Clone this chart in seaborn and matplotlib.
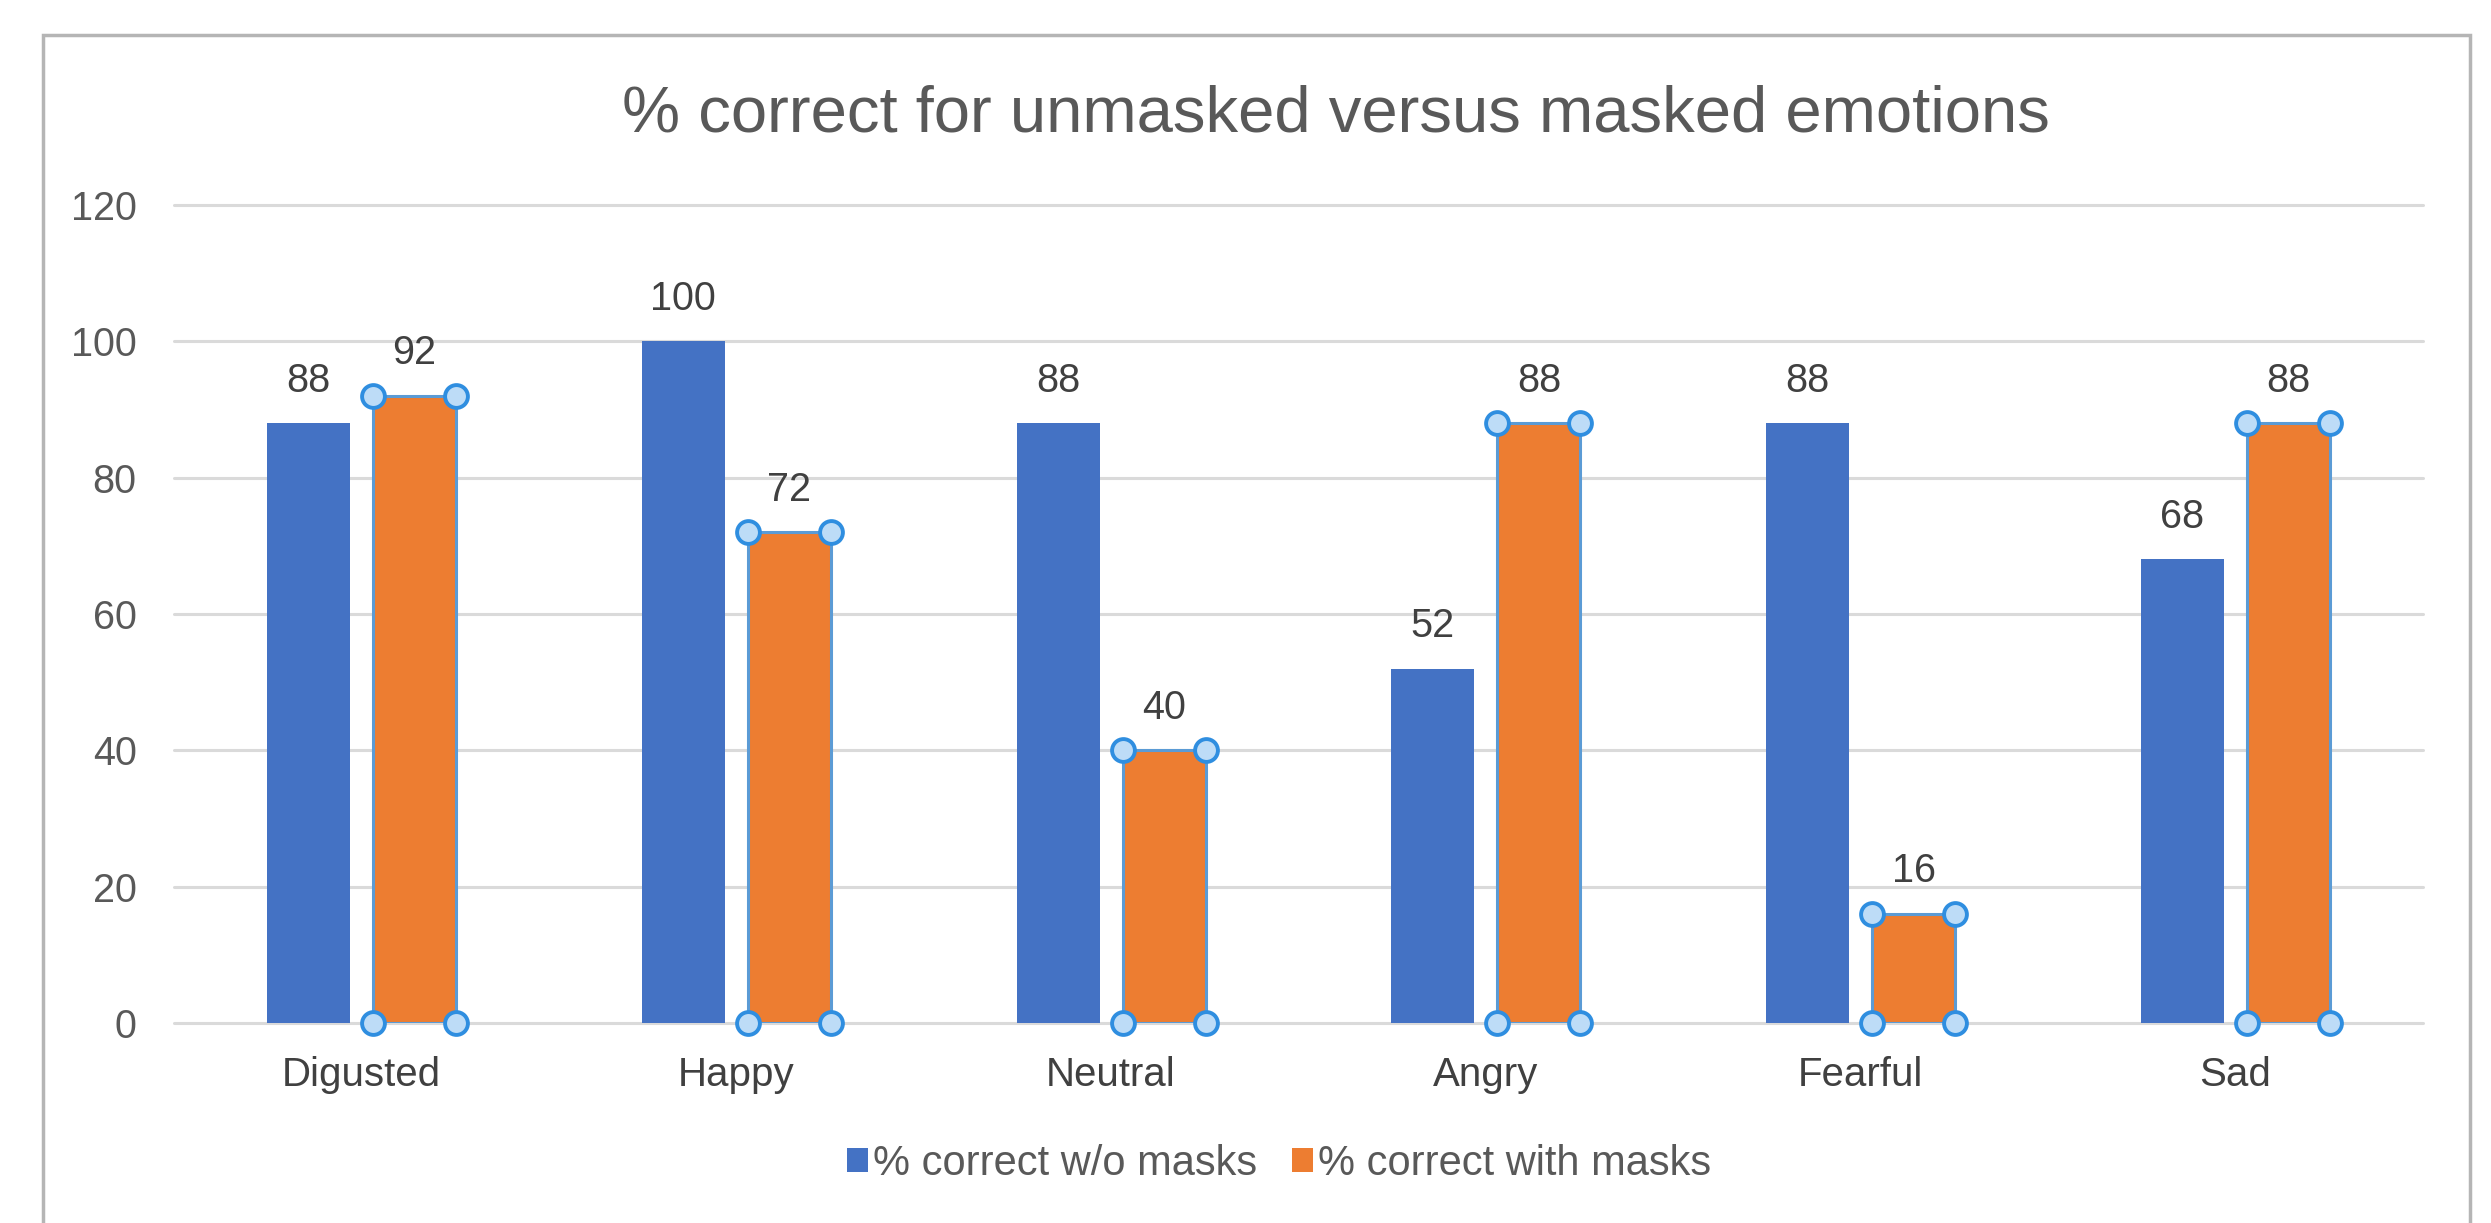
import matplotlib
matplotlib.use("Agg")
import matplotlib.pyplot as plt
import seaborn as sns
import pandas as pd
from matplotlib.patches import Rectangle

# ---- data ----
categories = ["Digusted", "Happy", "Neutral", "Angry", "Fearful", "Sad"]
without_masks = [88, 100, 88, 52, 88, 68]
with_masks = [92, 72, 40, 88, 16, 88]
series_names = ["% correct w/o masks", "% correct with masks"]
y_ticks = [0, 20, 40, 60, 80, 100, 120]
title = "% correct for unmasked versus masked emotions"

df = pd.DataFrame({
    "Emotion": categories * 2,
    "Percent": without_masks + with_masks,
    "Series": [series_names[0]] * len(categories) + [series_names[1]] * len(categories),
})

sns.set_theme(style="white")
plt.rcParams["font.family"] = ["Liberation Sans", "DejaVu Sans"]

W, H = 2491, 1223
fig = plt.figure(figsize=(W / 100, H / 100), dpi=100)
fig.patch.set_facecolor("white")

ax_left, ax_right, ax_top, ax_bottom = 174, 2423, 205, 1023
ax = fig.add_axes([ax_left / W, 1 - ax_bottom / H, (ax_right - ax_left) / W, (ax_bottom - ax_top) / H])

blue, orange = "#4472C4", "#ED7D31"
sns.barplot(data=df, x="Emotion", y="Percent", hue="Series", order=categories,
            hue_order=series_names, palette=[blue, orange], width=0.566, gap=0.217,
            saturation=1, linewidth=0, ax=ax, legend=True, zorder=3)

ax.set_ylim(0, 120)
ax.set_xlim(-0.5, len(categories) - 0.5)
ax.set_yticks(y_ticks)
ax.set_xlabel("")
ax.set_ylabel("")
for s in ax.spines.values():
    s.set_visible(False)
ax.yaxis.grid(True, color="#DADADA", linewidth=2.2, zorder=0)
ax.set_axisbelow(True)
for gl in ax.yaxis.get_gridlines():
    gl.set_clip_on(False)
ax.tick_params(axis="y", length=0, pad=27, labelsize=28.5, labelcolor="#595959")
ax.tick_params(axis="x", length=0, pad=24, labelsize=29, labelcolor="#404040")

label_color = "#404040"
for cont in ax.containers:
    ax.bar_label(cont, labels=[f"{v:.0f}" for v in cont.datavalues], padding=17,
                 fontsize=28.5, color=label_color, zorder=5)

# selection outline + handles on the orange series (as in the reference screenshot)
sel = ax.containers[1]
hx, hy = [], []
for p in sel.patches:
    p.set_edgecolor("#5B9BD5")
    p.set_linewidth(2.2)
    x0, w, h = p.get_x(), p.get_width(), p.get_height()
    hx += [x0, x0 + w, x0, x0 + w]
    hy += [0, 0, h, h]
ax.scatter(hx, hy, s=270, facecolor="#BDDCF7", edgecolor="#2F8EE0", linewidth=2.8,
           zorder=6, clip_on=False)

# legend
ax.legend_.remove()
handles = [Rectangle((0, 0), 1, 1, facecolor=c, edgecolor="none") for c in (blue, orange)]
fig.legend(handles, series_names, loc="center", bbox_to_anchor=(1279 / W, 1 - 1164 / H),
           ncol=2, frameon=False, fontsize=30, handlelength=0.5, handleheight=0.5,
           handletextpad=0.12, columnspacing=0.85, labelcolor="#595959")

# title
fig.text(1336 / W, 1 - 132 / H, title, ha="center", va="baseline", fontsize=47, color="#595959")

# chart frame
fig.patches.append(Rectangle((43 / W, -0.2), (2470 - 43) / W, 1 - 35 / H + 0.2,
                             transform=fig.transFigure, fill=False,
                             edgecolor="#B5B5B5", linewidth=2.5))

fig.savefig("out.png", dpi=100, facecolor="white")
